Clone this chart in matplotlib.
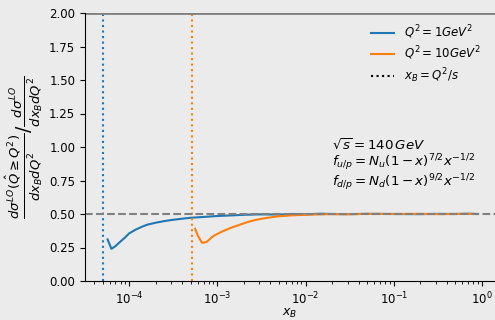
import numpy as np
import matplotlib.pyplot as plt

# Q^2 = 1 GeV^2
x_q1 = [5.7e-5, 6.3e-5, 7.0e-5, 8.0e-5, 9.0e-5, 1.0e-4, 1.2e-4, 1.4e-4, 1.6e-4,
        2.0e-4, 2.5e-4, 3.0e-4, 4.0e-4, 5.0e-4, 7.0e-4, 1.0e-3, 1.5e-3, 2.0e-3,
        3.0e-3, 5.0e-3, 7.0e-3, 1.0e-2, 1.5e-2, 2.0e-2, 3.0e-2, 5.0e-2, 0.1,
        0.2, 0.3, 0.5, 0.7, 0.88]
r_q1 = [0.31, 0.24, 0.26, 0.295, 0.325, 0.355, 0.385, 0.405, 0.42,
        0.435, 0.447, 0.455, 0.465, 0.472, 0.478, 0.485, 0.49, 0.494,
        0.497, 0.496, 0.499, 0.498, 0.502, 0.5, 0.499, 0.501, 0.5,
        0.499, 0.501, 0.5, 0.502, 0.5]

# Q^2 = 10 GeV^2
x_q10 = [5.6e-4, 6.0e-4, 6.7e-4, 7.5e-4, 9.0e-4, 1.1e-3, 1.4e-3, 1.8e-3, 2.2e-3,
         2.7e-3, 3.2e-3, 4.0e-3, 5.0e-3, 7.0e-3, 1.0e-2, 1.4e-2, 2.0e-2, 3.0e-2,
         5.0e-2, 0.1, 0.2, 0.3, 0.5, 0.7, 0.88]
r_q10 = [0.39, 0.34, 0.285, 0.29, 0.335, 0.365, 0.395, 0.42, 0.44,
         0.455, 0.465, 0.475, 0.483, 0.49, 0.494, 0.497, 0.499, 0.498,
         0.501, 0.5, 0.501, 0.499, 0.5, 0.501, 0.5]

s = 140.0**2
q2_vals = [1.0, 10.0]

bg = '#ebebeb'
fig = plt.figure(figsize=(4.95, 3.2), dpi=100, facecolor=bg)
ax = fig.add_axes([85/495, 1 - 281/320, 1 - 85/495, (281 - 13)/320], facecolor=bg)

ax.plot(x_q1, r_q1, color='#1f77b4', lw=1.5, label=r'$Q^2 = 1GeV^2$')
ax.plot(x_q10, r_q10, color='#ff7f0e', lw=1.5, label=r'$Q^2 = 10GeV^2$')
ax.axvline(q2_vals[0]/s, color='#1f77b4', ls=':', lw=1.5)
ax.axvline(q2_vals[1]/s, color='#ff7f0e', ls=':', lw=1.5)
ax.plot([], [], color='black', ls=':', lw=1.5, label=r'$x_B = Q^2/s$')
ax.axhline(0.5, color='gray', ls='--', lw=1.5)
ax.axhline(2.0, color='gray', lw=2)

ax.set_xscale('log')
ax.set_xlim(10**-4.5, 10**0.148)
ax.set_ylim(0, 2)
ax.set_yticks(np.arange(0, 2.01, 0.25))
ax.tick_params(labelsize=8.5)
for side in ['top', 'right']:
    ax.spines[side].set_visible(False)

ax.set_xlabel(r'$x_B$', fontsize=9, labelpad=0)
ax.set_ylabel(r'$\frac{d\sigma^{LO}(\hat{Q}\geq Q^2)}{dx_BdQ^2}/\frac{d\sigma^{LO}}{dx_BdQ^2}$',
              fontsize=13.5, labelpad=3)

ax.legend(loc='upper right', frameon=False, fontsize=8.5, labelspacing=0.3,
          bbox_to_anchor=(0.99, 1.0))
ax.text(0.603, 0.33,
        '$\\sqrt{s} = 140\\,GeV$\n$f_{u/p} = N_u(1-x)^{7/2}x^{-1/2}$\n$f_{d/p} = N_d(1-x)^{9/2}x^{-1/2}$',
        transform=ax.transAxes, fontsize=9.6, va='bottom', ha='left', linespacing=0.95)

fig.savefig('out.png', dpi=100, facecolor=bg)
